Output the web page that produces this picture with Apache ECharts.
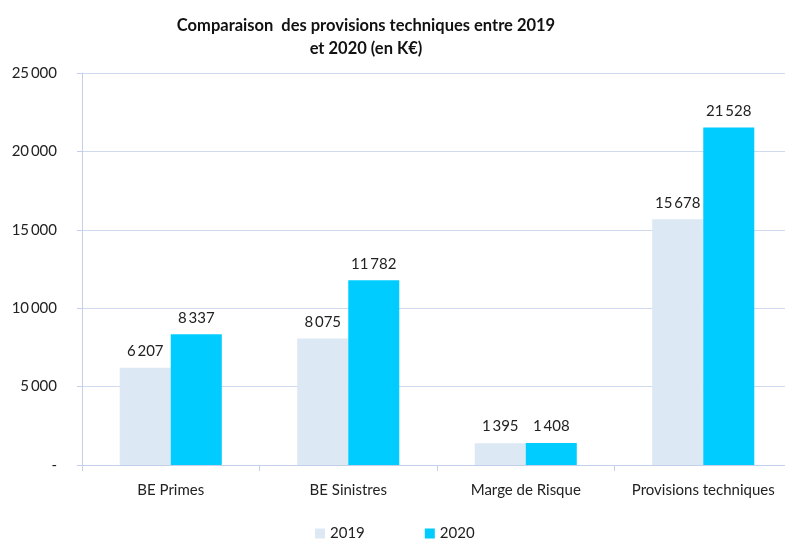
<!DOCTYPE html>
<html>
<head>
<meta charset="utf-8">
<script src="https://cdn.jsdelivr.net/npm/echarts@6/dist/echarts.min.js"></script>
<style>
  html, body { margin: 0; padding: 0; background: #fff; overflow: hidden; }
  #chart { width: 792px; height: 540px; }
</style>
</head>
<body>
<div id="chart"></div>
<script>
// données (en K€)
var categories = ["BE Primes", "BE Sinistres", "Marge de Risque", "Provisions techniques"];
var values2019 = [6207, 8075, 1395, 15678];
var values2020 = [8337, 11782, 1408, 21528];
var yTicks = [0, 5000, 10000, 15000, 20000, 25000];

function fmt(v) {
  if (v === 0) return "-";
  return String(v).replace(/\B(?=(\d{3})+(?!\d))/g, "\u2009");
}

var font = "Lato, 'Open Sans', sans-serif";
var chart = echarts.init(document.getElementById("chart"));

var option = {
  animation: false,
  textStyle: { fontFamily: font },
  title: {
    text: "Comparaison  des provisions techniques entre 2019\net 2020 (en K€)",
    left: 361,
    top: 9,
    textAlign: "center",
    textStyle: { fontSize: 16.5, fontWeight: "bold", color: "#111", lineHeight: 23, fontFamily: font }
  },
  legend: {
    data: ["2019", "2020"],
    left: 310,
    bottom: -6,
    itemWidth: 10,
    itemHeight: 10,
    itemGap: 60,
    icon: "rect",
    textStyle: { fontSize: 15, color: "#222", fontFamily: font }
  },
  grid: { left: 82, top: 73, right: 0, bottom: 75, containLabel: false },
  xAxis: {
    type: "category",
    data: categories,
    axisLine: { lineStyle: { color: "#c3d0ea", width: 1 } },
    axisTick: { show: true, length: 6, lineStyle: { color: "#c3d0ea" } },
    axisLabel: { interval: 0, fontSize: 15, color: "#222", margin: 18, fontFamily: font }
  },
  yAxis: {
    type: "value",
    min: yTicks[0],
    max: yTicks[yTicks.length - 1],
    interval: 5000,
    axisLine: { show: true, lineStyle: { color: "#c3d0ea" } },
    axisTick: { show: true, length: 5, lineStyle: { color: "#c3d0ea" } },
    splitLine: { lineStyle: { color: "#d0daee" } },
    axisLabel: { fontSize: 15, color: "#222", margin: 25, formatter: fmt, fontFamily: font }
  },
  series: [
    {
      name: "2019",
      type: "bar",
      data: values2019,
      barGap: "0%",
      barCategoryGap: "42.5%",
      itemStyle: { color: "#dde8f5" },
      label: { show: true, position: "top", distance: 9, fontSize: 15, color: "#222", formatter: function (p) { return fmt(p.value); } }
    },
    {
      name: "2020",
      type: "bar",
      data: values2020,
      itemStyle: { color: "#00ccff" },
      label: { show: true, position: "top", distance: 9, fontSize: 15, color: "#222", formatter: function (p) { return fmt(p.value); } }
    }
  ]
};

chart.setOption(option);
</script>
</body>
</html>
